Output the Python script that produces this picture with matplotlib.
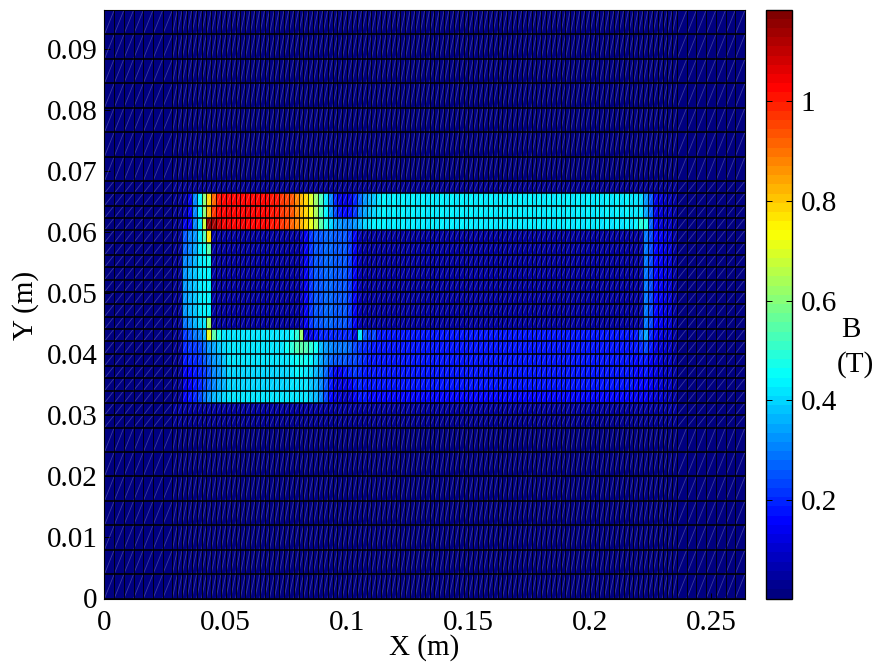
import numpy as np
import matplotlib
matplotlib.use("Agg")
import matplotlib.pyplot as plt
from matplotlib.collections import LineCollection
from matplotlib.colors import LinearSegmentedColormap

plt.rcParams['font.family'] = ['Liberation Serif', 'DejaVu Serif']

# mesh spacing (m)
dx_coarse, dx_fine, n_x_coarse, n_x_fine = 0.004, 0.002, 7, 104
dy_coarse, dy_fine, n_y_coarse, n_y_fine = 0.004, 0.00202, 7, 20
vmin, vmax = 0.003, 1.183

# outer region values
B_air_coarse = 0.015
B_air_fine = 0.03

# field magnitude rows (T) over the 104 fine x columns, named by fine-row index from the bottom
r19 = [.03]*104
r18 = [.03,.03,.05,.13,.30,.43,.60,.78,.92,1.0,1.02,1.03,1.03,1.02,1.03,1.03,1.03,1.02,1.03,1.02,1.0,1.0,.98,.95,.93,.88,.82,.78,.70,.62,.52,.42,.30,.20,.12,.12,.12,.20,.27,.33,.37,.39,.41] + [.43,.42]*26 + [.42,.40,.33,.26,.12,.10,.08,.07,.05]
r17 = [.03,.03,.06,.15,.30,.43,.60,.82,.97,1.02,1.03,1.04,1.03,1.03,1.03,1.04,1.03,1.03,1.03,1.02,1.0,1.0,.98,.95,.93,.88,.82,.78,.71,.63,.52,.43,.33,.24,.18,.16,.17,.22,.30,.35,.38,.40,.42] + [.43,.42]*26 + [.42,.42,.34,.27,.13,.11,.09,.08,.05]
r16 = [.03,.03,.12,.15,.30,.42,.68,1.15,1.13,1.08,1.04,1.04,1.03,1.03,1.04,1.03,1.03,1.03,1.02,1.02,1.0,1.0,.98,.95,.92,.88,.82,.78,.72,.65,.55,.47,.40,.34,.32,.30,.30,.33,.37,.40,.42,.43,.43] + [.43,.42]*26 + [.43,.50,.47,.27,.14,.11,.09,.08,.05]
limb = [.09,.14,.22,.25,.26,.27,.27,.26,.25,.25,.22,.14,.06]
flank = [.28,.24,.16,.14,.12,.10,.05]
r15 = [.03,.03,.25,.30,.33,.42,.52,.76] + [.05]*18 + limb + [.05]*58 + flank
r14 = [.03,.03,.27,.30,.35,.42,.46,.55] + [.05]*18 + limb + [.05]*58 + flank
r13 = [.03,.03,.30,.33,.37,.42,.43,.48] + [.05]*18 + limb + [.05]*58 + flank
r12 = [.03,.03,.32,.36,.38,.42,.43,.43] + [.05]*18 + limb + [.05]*58 + flank
r11 = [.03,.03,.32,.36,.38,.42,.43,.43] + [.05]*18 + limb + [.05]*58 + flank
r10 = [.03,.03,.32,.36,.38,.42,.43,.43] + [.05]*18 + limb + [.05]*58 + flank
r9 = [.03,.03,.32,.36,.38,.42,.43,.44] + [.05]*18 + limb + [.05]*58 + flank
r8 = [.03,.03,.28,.32,.36,.40,.42,.62] + [.05]*18 + limb + [.05]*58 + flank
r7 = [.03,.03,.22,.25,.28,.30,.37,.72,.55,.47] + [.42]*14 + [.46,.50,.62,.10,.13,.17,.20,.20,.20,.20,.20,.20,.20,.10,.42,.25,.22,.23] + [.18]*54 + [.27,.35,.20,.14,.12,.11,.10,.05]
r6 = [.03,.03,.20,.22,.22,.24,.27,.33,.35,.38,.40] + [.42]*12 + [.45,.50,.53,.54,.52,.50,.46,.37,.32,.30,.28,.28,.28,.27,.24,.22,.20,.19] + [.17]*55 + [.20,.23,.17,.13,.11,.10,.09,.05]
r5 = [.03,.03,.18,.20,.20,.22,.25,.28,.32,.35,.38] + [.41]*13 + [.43,.46,.47,.46,.43,.40,.35,.30,.27,.25,.25,.25,.24,.23,.21,.20] + [.17]*55 + [.16,.17,.18,.15,.12,.10,.09,.08,.05]
r4 = [.03,.03,.14,.16,.18,.20,.22,.26,.30,.33,.36] + [.40]*13 + [.41,.43,.43,.42,.40,.37,.32,.27,.20,.15,.15,.17,.20,.21,.20,.18] + [.17]*55 + [.16,.16,.17,.14,.12,.10,.09,.08,.05]
r3 = [.03,.03,.13,.15,.17,.20,.23,.27,.31,.34,.37] + [.40]*13 + [.41,.42,.42,.41,.39,.36,.31,.25,.17,.12,.12,.13,.15,.18,.19,.18] + [.17]*55 + [.16,.16,.16,.14,.12,.10,.09,.08,.05]
r2 = [.03,.03,.15,.17,.20,.24,.28,.33,.36,.38,.40] + [.41]*13 + [.42,.42,.42,.41,.39,.36,.31,.24,.16,.12,.10,.08,.10,.15,.18,.18] + [.16]*55 + [.15,.15,.15,.13,.11,.10,.09,.07,.05]
r1 = [.04]*104
r0 = [.03]*104
fine_rows = [r0, r1, r2, r3, r4, r5, r6, r7, r8, r9, r10, r11, r12, r13, r14, r15, r16, r17, r18, r19]

xticks = [0, 0.05, 0.1, 0.15, 0.2, 0.25]
xticklabels = ['0', '0.05', '0.1', '0.15', '0.2', '0.25']
yticks = [0, 0.01, 0.02, 0.03, 0.04, 0.05, 0.06, 0.07, 0.08, 0.09]
yticklabels = ['0', '0.01', '0.02', '0.03', '0.04', '0.05', '0.06', '0.07', '0.08', '0.09']
cbticks = [0.2, 0.4, 0.6, 0.8, 1.0]
cblabels = ['0.2', '0.4', '0.6', '0.8', '1']

# edges
x_edges = np.cumsum([0.0] + [dx_coarse]*n_x_coarse + [dx_fine]*n_x_fine + [dx_coarse]*n_x_coarse)
y_edges = np.cumsum([0.0] + [dy_coarse]*n_y_coarse + [dy_fine]*n_y_fine + [dy_coarse]*n_y_coarse)

nx = len(x_edges) - 1
ny = len(y_edges) - 1
B = np.full((ny, nx), B_air_coarse)
for k, row in enumerate(fine_rows):
    B[n_y_coarse + k, n_x_coarse:n_x_coarse + n_x_fine] = row[:n_x_fine]
B[n_y_coarse:n_y_coarse + n_y_fine, :n_x_coarse] = 0.02
B[n_y_coarse:n_y_coarse + n_y_fine, -n_x_coarse:] = 0.02

W, H = 879, 666
fig = plt.figure(figsize=(W/100, H/100), dpi=100)
ax = fig.add_axes([104.5/W, (H-598.5)/H, 640.5/W, 588.5/H])
cmap = LinearSegmentedColormap('jet64', {
    'red':   [(0, 0, 0), (3/8, 0, 0), (5/8, 1, 1), (7/8, 1, 1), (1, .5, .5)],
    'green': [(0, 0, 0), (1/8, 0, 0), (3/8, 1, 1), (5/8, 1, 1), (7/8, 0, 0), (1, 0, 0)],
    'blue':  [(0, .5, .5), (1/8, 1, 1), (3/8, 1, 1), (5/8, 0, 0), (1, 0, 0)],
}, N=64)
mesh = ax.pcolormesh(x_edges, y_edges, B, cmap=cmap, vmin=vmin, vmax=vmax, shading='flat', linewidth=0)

# triangle seam in each cell
X0, Y0 = np.meshgrid(x_edges[:-1], y_edges[:-1])
X1, Y1 = np.meshgrid(x_edges[1:], y_edges[1:])
segs = np.stack([np.stack([X0.ravel(), Y0.ravel()], 1), np.stack([X1.ravel(), Y1.ravel()], 1)], 1)
ax.add_collection(LineCollection(segs, colors=[(1, 1, 1, 0.22)], linewidths=0.65, zorder=2))

ax.vlines(x_edges, 0, y_edges[-1], color='k', lw=0.6, zorder=3)
ax.hlines(y_edges, 0, x_edges[-1], color='k', lw=1.15, zorder=3)

ax.set_xlim(0, 0.264)
ax.set_ylim(0, 0.0964)
ax.set_xticks(xticks)
ax.set_xticklabels(xticklabels)
ax.set_yticks(yticks)
ax.set_yticklabels(yticklabels)
ax.tick_params(axis='x', direction='in', length=4, width=0.7, labelsize=21, pad=8)
ax.tick_params(axis='y', direction='in', length=4, width=0.7, labelsize=21, pad=5)
for s in ax.spines.values():
    s.set_linewidth(0.8)
    s.set_zorder(5)
fig.text(424/W, 1-648/H, 'X (m)', fontsize=21, ha='center', va='center')
fig.text(26/W, 1-305/H, 'Y (m)', fontsize=21, ha='center', va='center', rotation=90)

cax = fig.add_axes([766.5/W, (H-598.5)/H, 26/W, 589/H])
cb = fig.colorbar(mesh, cax=cax, ticks=cbticks)
cb.ax.set_yticklabels(cblabels)
cb.ax.tick_params(axis='y', which='both', direction='in', length=4.5, width=0.7, labelsize=21, left=True, right=True, pad=6)
cb.outline.set_linewidth(1.0)
cb.minorticks_off()
fig.text(851/W, 1-330/H, 'B', fontsize=21, ha='center', va='center')
fig.text(855/W, 1-365/H, '(T)', fontsize=21, ha='center', va='center')

fig.savefig('out.png', dpi=100)
